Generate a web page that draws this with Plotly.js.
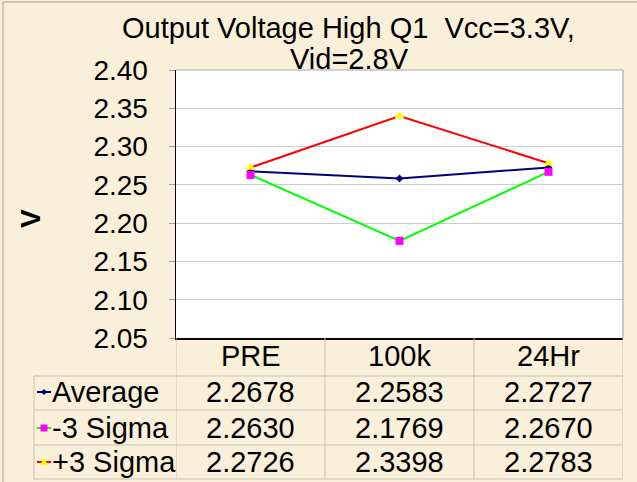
<!DOCTYPE html>
<html>
<head>
<meta charset="utf-8">
<script src="https://cdn.plot.ly/plotly-3.0.1.min.js"></script>
<style>html,body{margin:0;padding:0;background:#FAF0DA;}#chart{width:637px;height:482px;}</style>
</head>
<body>
<div id="chart"></div>
<script>
// ---- data ----
const categories = ["PRE", "100k", "24Hr"];
const seriesNames = ["Average", "-3 Sigma", "+3 Sigma"];
const average = [2.2678, 2.2583, 2.2727];
const minus3Sigma = [2.2630, 2.1769, 2.2670];
const plus3Sigma = [2.2726, 2.3398, 2.2783];
const titleLine1 = "Output Voltage High Q1\u00a0 Vcc=3.3V,";
const titleLine2 = "Vid=2.8V";
const yTitle = "V";

// ---- layout geometry (pixels) ----
const W = 637, H = 482;
const L = 176, R = 623, T = 70, B = 338;
const pw = R - L, ph = B - T;
const px = x => (x - L) / pw;
const py = y => (B - y) / ph;

const FONT = "Liberation Sans, Arial, sans-serif";
const FS = 28, FS2 = 29;
const seriesData = [average, minus3Sigma, plus3Sigma];
const lineColors = ["#000080", "#00FF00", "#FF0000"];
const markerColors = ["#000080", "#FF00FF", "#FFFF00"];
const markerSymbols = ["diamond", "square", "triangle-up"];
const markerSizes = [6, 8, 9];

const traces = seriesData.map((vals, i) => ({
  type: "scatter", mode: "lines+markers",
  x: categories, y: vals, name: seriesNames[i],
  line: {color: lineColors[i], width: 2},
  marker: {color: markerColors[i], symbol: markerSymbols[i], size: markerSizes[i], line: {width: 0}},
  cliponaxis: false, showlegend: false, hoverinfo: "skip"
}));

const gridC = "#C8C0B0";
const shapes = [];
const annotations = [];

// plot frame (top/right gray)
shapes.push({type: "line", xref: "paper", yref: "paper", x0: 0, x1: 1, y0: 1, y1: 1, line: {color: "#A8A8A8", width: 1.2}});
shapes.push({type: "line", xref: "paper", yref: "paper", x0: 1, x1: 1, y0: 0, y1: 1, line: {color: "#A8A8A8", width: 1.2}});
// outer chart frame
shapes.push({type: "line", xref: "paper", yref: "paper", x0: px(3), x1: px(3), y0: py(2), y1: py(H + 5), line: {color: "#C0B8A8", width: 1.5}});
shapes.push({type: "line", xref: "paper", yref: "paper", x0: px(3), x1: px(W + 5), y0: py(2), y1: py(2), line: {color: "#C0B8A8", width: 1.5}});

// data table grid
const rowLines = [376, 410, 445, 479];
rowLines.forEach(y => shapes.push({type: "line", xref: "paper", yref: "paper", x0: px(34), x1: 1, y0: py(y), y1: py(y), line: {color: gridC, width: 1}}));
shapes.push({type: "line", xref: "paper", yref: "paper", x0: px(34), x1: px(34), y0: py(376), y1: py(479), line: {color: gridC, width: 1}});
[-0.5, 0.5, 1.5, 2.5].forEach(xv => shapes.push({type: "line", xref: "x", yref: "paper", x0: xv, x1: xv, y0: 0, y1: py(479), line: {color: gridC, width: 1}}));

// category header row
categories.forEach(c => annotations.push({xref: "x", yref: "paper", x: c, y: py(356), xanchor: "center", yanchor: "middle",
  showarrow: false, text: c, font: {family: FONT, size: FS2, color: "#000"}}));

// legend key marker shapes (pixel geometry)
function keyMarker(i, cx, cy) {
  const X = v => px(v), Y = v => py(v);
  if (markerSymbols[i] === "square") {
    return {type: "rect", xref: "paper", yref: "paper", x0: X(cx - 3.5), x1: X(cx + 3.5), y0: Y(cy - 3.5), y1: Y(cy + 3.5),
      fillcolor: markerColors[i], line: {width: 0}};
  }
  if (markerSymbols[i] === "triangle-up") {
    return {type: "path", xref: "paper", yref: "paper",
      path: `M ${X(cx - 4)} ${Y(cy + 3)} L ${X(cx + 4)} ${Y(cy + 3)} L ${X(cx)} ${Y(cy - 4)} Z`,
      fillcolor: markerColors[i], line: {width: 0}};
  }
  return {type: "path", xref: "paper", yref: "paper",
    path: `M ${X(cx - 3)} ${Y(cy)} L ${X(cx)} ${Y(cy - 3)} L ${X(cx + 3)} ${Y(cy)} L ${X(cx)} ${Y(cy + 3)} Z`,
    fillcolor: markerColors[i], line: {width: 0}};
}

// table rows
const rowCenters = [392, 428, 462];
seriesData.forEach((vals, i) => {
  const yc = py(rowCenters[i]);
  shapes.push({type: "line", xref: "paper", yref: "paper", x0: px(37), x1: px(51), y0: yc, y1: yc, line: {color: lineColors[i], width: 2}});
  shapes.push(keyMarker(i, 44, rowCenters[i]));
  annotations.push({xref: "paper", yref: "paper", x: px(50), y: yc, xanchor: "left", yanchor: "middle", showarrow: false,
    text: seriesNames[i], font: {family: FONT, size: FS2, color: "#000"}});
  vals.forEach((v, j) => annotations.push({xref: "x", yref: "paper", x: categories[j], y: yc, xanchor: "center", yanchor: "middle",
    showarrow: false, text: v.toFixed(4), font: {family: FONT, size: FS2, color: "#000"}}));
});

// titles
annotations.push({xref: "paper", yref: "paper", x: px(348), y: py(28), xanchor: "center", yanchor: "middle", showarrow: false,
  text: titleLine1, font: {family: FONT, size: FS2, color: "#000"}});
annotations.push({xref: "paper", yref: "paper", x: px(349), y: py(59), xanchor: "center", yanchor: "middle", showarrow: false,
  text: titleLine2, font: {family: FONT, size: FS2, color: "#000"}});
annotations.push({xref: "paper", yref: "paper", x: px(30), y: py(219), xanchor: "center", yanchor: "middle", showarrow: false,
  textangle: -90, text: "<b>" + yTitle + "</b>", font: {family: FONT, size: FS, color: "#000"}});

const layout = {
  width: W, height: H,
  margin: {l: L, r: W - R, t: T, b: H - B, pad: 0},
  paper_bgcolor: "#FAF0DA",
  plot_bgcolor: "#FFFFFF",
  showlegend: false,
  xaxis: {
    type: "category", range: [-0.5, 2.5], showgrid: false, zeroline: false,
    showline: true, linecolor: "#000", linewidth: 1.5, ticks: "", showticklabels: false, fixedrange: true
  },
  yaxis: {
    range: [2.05, 2.40], dtick: 0.05, tick0: 2.05, tickformat: ".2f",
    showgrid: true, gridcolor: "#CCCCCC", gridwidth: 1, zeroline: false,
    showline: true, linecolor: "#000", linewidth: 1.5,
    ticks: "outside", ticklen: 6, tickcolor: "#A0A0A0", ticklabelstandoff: 15,
    tickfont: {family: FONT, size: FS, color: "#000"}, fixedrange: true
  },
  shapes: shapes,
  annotations: annotations
};

Plotly.newPlot("chart", traces, layout, {staticPlot: true, displayModeBar: false});
</script>
</body>
</html>
